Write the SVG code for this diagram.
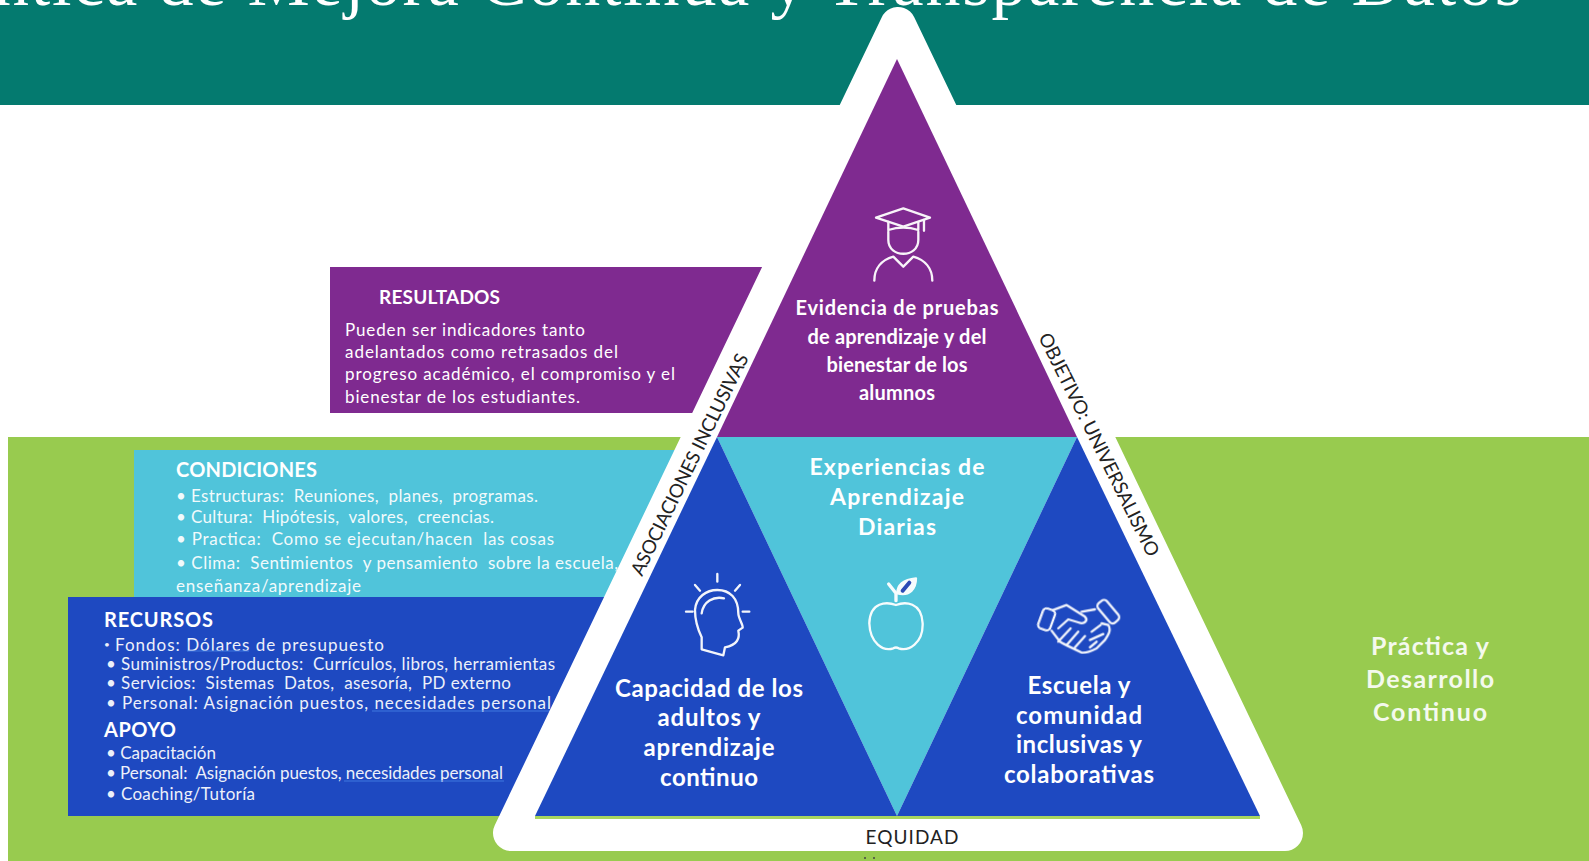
<svg xmlns="http://www.w3.org/2000/svg" width="1589" height="861" viewBox="0 0 1589 861">
<style>
text{font-family:Lato,"Liberation Sans",sans-serif;fill:#fff}
.h{font-weight:700}
.n{font-weight:700;text-anchor:middle}
.ic{fill:none;stroke:#fff;stroke-width:7;stroke-linecap:round;stroke-linejoin:round;opacity:.95}
.u{fill:none;stroke:#3f78e0;stroke-width:1.2}
.lab{fill:#222;font-size:19px}
</style>
<rect width="1589" height="861" fill="#fff"/>
<rect id="header" width="1589" height="105" fill="#047a6f"/>
<text id="title" x="-6" y="5" textLength="1528" lengthAdjust="spacing" style="font-family:'Liberation Serif',serif;font-size:70px">ntica de Mejora Continua y Transparencia de Datos</text>
<rect id="green" x="8" y="437" width="1581" height="424" fill="#98cb4f"/>
<g id="resultados">
<rect x="330" y="267" width="440" height="146" fill="#7f2a90"/>
<text class="h" x="379" y="304" font-size="19" textLength="121">RESULTADOS</text>
<g font-size="17">
<text x="345" y="336" textLength="240">Pueden ser indicadores tanto</text>
<text x="345" y="358" textLength="273">adelantados como retrasados del</text>
<text x="345" y="380" textLength="330">progreso académico, el compromiso y el</text>
<text x="345" y="403" textLength="235">bienestar de los estudiantes.</text>
</g>
</g>
<g id="condiciones">
<rect x="134" y="450" width="570" height="147" fill="#50c4da"/>
<text class="h" x="176" y="477" font-size="20" textLength="141">CONDICIONES</text>
<g font-size="17" opacity=".92">
<text x="176" y="502" textLength="362" xml:space="preserve">• Estructuras:  Reuniones,  planes,  programas.</text>
<text x="176" y="523" textLength="318" xml:space="preserve">• Cultura:  Hipótesis,  valores,  creencias.</text>
<text x="176" y="545" textLength="378" xml:space="preserve">• Practica:  Como se ejecutan/hacen  las cosas</text>
<text x="176" y="569" textLength="442" xml:space="preserve">• Clima:  Sentimientos  y pensamiento  sobre la escuela,</text>
<text x="176" y="592" textLength="185">enseñanza/aprendizaje</text>
</g>
</g>
<g id="recursos">
<rect x="68" y="597" width="560" height="219" fill="#1e49c1"/>
<text class="h" x="104" y="627" font-size="20" textLength="109">RECURSOS</text>
<g font-size="17" opacity=".92">
<text x="104" y="648" font-size="10">•</text>
<text x="115" y="651" textLength="269">Fondos: Dólares de presupuesto</text>
<text x="106" y="670" textLength="449" xml:space="preserve">• Suministros/Productos:  Currículos, libros, herramientas</text>
<text x="106" y="689" textLength="405" xml:space="preserve">• Servicios:  Sistemas  Datos,  asesoría,  PD externo</text>
<text x="106" y="709" textLength="445">• Personal: Asignación puestos, necesidades personal</text>
<text x="106" y="759" textLength="110">• Capacitación</text>
<text x="106" y="779" textLength="397" xml:space="preserve">• Personal:  Asignación puestos, necesidades personal</text>
<text x="106" y="800" textLength="149">• Coaching/Tutoría</text>
</g>
<text class="h" x="104" y="737" font-size="20" textLength="72">APOYO</text>
<path class="u" d="M187 651h62M372 711h178M344 781h160"/>
</g>
<g id="marco">
<polygon points="898,25 511,833 1285,833" fill="#fff" stroke="#fff" stroke-width="36" stroke-linejoin="round"/>
<rect x="535" y="816" width="725" height="3" fill="#a9d65f"/>
</g>
<g id="evidencia">
<polygon points="897,59 1077,437 717,437" fill="#7f2a90"/>
<g class="ic" transform="translate(780 190) scale(.3333)">
<path d="M370 55L450 83L370 110L288 83Z"/>
<path d="M325 96V120Q370 105 415 120V96M432 90V122"/>
<path d="M325 125V150C325 205 415 205 415 150V125"/>
<path d="M283 272C283 235 305 210 340 200L370 230L400 200C435 210 457 235 457 272"/>
</g>
<g class="n" font-size="20">
<text x="897" y="315" textLength="203">Evidencia de pruebas</text>
<text x="897" y="344" textLength="179">de aprendizaje y del</text>
<text x="897" y="372" textLength="141">bienestar de los</text>
<text x="897" y="400" textLength="76">alumnos</text>
</g>
</g>
<g id="experiencias">
<polygon points="717,437 1077,437 897,816" fill="#50c4da"/>
<g class="ic" transform="translate(660 560) scale(.3333)">
<path d="M708 135C680 125 630 125 628 190C630 250 670 275 700 265Q708 260 716 265C745 275 790 250 788 190C785 125 735 125 708 135Z"/>
<path d="M708 122V100L686 72" stroke-width="10"/>
<path d="M712 100C712 70 740 58 768 55C768 85 750 110 712 100Z" fill="#fff"/>
<path d="M728 92L748 68" stroke="#2a45b5" stroke-width="12"/>
</g>
<g class="n" font-size="23">
<text x="897" y="475" textLength="175">Experiencias de</text>
<text x="897" y="505" textLength="134">Aprendizaje</text>
<text x="897" y="535" textLength="78">Diarias</text>
</g>
</g>
<g id="capacidad">
<polygon points="717,437 897,816 535,816" fill="#1e49c1"/>
<g class="ic" transform="translate(660 560) scale(.3333)">
<path d="M172 42V65M105 75L120 92M240 75L225 92M78 155H98M248 155H268"/>
<path d="M125 268V232C112 205 105 185 105 150C108 110 140 90 172 90C210 90 235 115 235 160C235 175 250 195 248 203L235 212C240 235 232 255 195 262L190 286Z"/>
<path d="M125 160C130 125 160 108 192 115"/>
</g>
<g class="n" font-size="24">
<text x="709" y="697" textLength="188">Capacidad de los</text>
<text x="709" y="726" textLength="103">adultos y</text>
<text x="709" y="756" textLength="131">aprendizaje</text>
<text x="709" y="786" textLength="98">continuo</text>
</g>
</g>
<g id="escuela">
<polygon points="1077,437 1260,816 897,816" fill="#1e49c1"/>
<g class="ic" transform="translate(660 560) scale(.3333)">
<rect x="-19" y="-32" width="38" height="64" rx="12" transform="translate(1160 178) rotate(20)"/>
<rect x="-17" y="-38" width="34" height="76" rx="12" transform="translate(1345 155) rotate(-40)"/>
<path d="M1180 150L1220 135L1275 170C1285 180 1275 195 1255 187L1225 178L1195 205"/>
<path d="M1305 148L1265 155M1175 212L1200 245C1215 255 1240 265 1265 278C1280 280 1300 270 1310 265L1335 240C1345 225 1355 210 1345 195L1325 190"/>
<path d="M1232 205L1195 245M1255 215L1220 255M1275 228L1245 262M1295 215L1322 195M1290 240L1330 222M1290 262L1310 245"/>
</g>
<g class="n" font-size="24">
<text x="1079" y="694" textLength="103">Escuela y</text>
<text x="1079" y="724" textLength="126">comunidad</text>
<text x="1079" y="753" textLength="126">inclusivas y</text>
<text x="1079" y="783" textLength="150">colaborativas</text>
</g>
</g>
<g id="etiquetas">
<text class="lab" transform="translate(642 577) rotate(-64)" textLength="244">ASOCIACIONES INCLUSIVAS</text>
<text class="lab" transform="translate(1038 337) rotate(63.5)" textLength="247">OBJETIVO: UNIVERSALISMO</text>
<text class="lab" x="912" y="844" text-anchor="middle" textLength="93">EQUIDAD</text>
<circle cx="865" cy="858" r="1" fill="#444"/><circle cx="874" cy="858" r="1" fill="#444"/>
</g>
<g id="practica" class="n" font-size="25" opacity=".9">
<text x="1430" y="655" textLength="118">Práctica y</text>
<text x="1430" y="688" textLength="128">Desarrollo</text>
<text x="1430" y="721" textLength="114">Continuo</text>
</g>
<g id="connectors"/>
</svg>
